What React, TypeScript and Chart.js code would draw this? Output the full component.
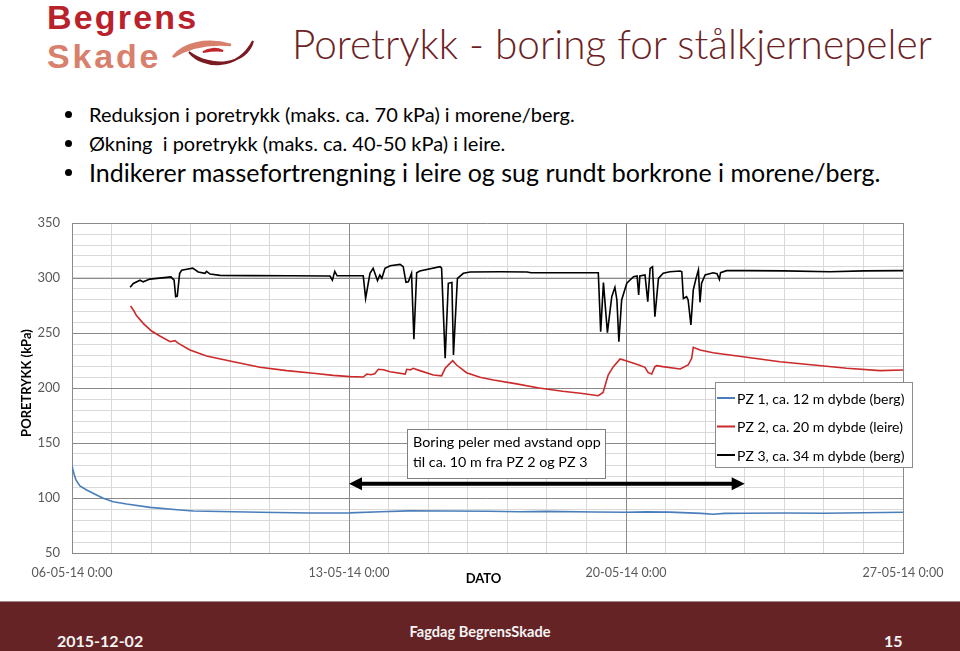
import React, { useEffect, useRef } from 'react';
import { Chart, registerables } from 'chart.js';

Chart.register(...registerables);

// ---------- DATA ----------
const X_TICK_LABELS = ['06-05-14 0:00', '13-05-14 0:00', '20-05-14 0:00', '27-05-14 0:00'];
const DAYS_PER_LABEL = 7;
const X_MAX_DAYS = 21;
const Y_MIN = 50;
const Y_MAX = 350;
const Y_LABEL_STEP = 50;

const SERIES_NAMES = [
  'PZ 1, ca. 12 m dybde (berg)',
  'PZ 2, ca. 20 m dybde (leire)',
  'PZ 3, ca. 34 m dybde (berg)',
];

// PZ 1 (blue) – days after 06-05-14 0:00, kPa
const PZ1_DAYS = [0, 0.05, 0.1, 0.2, 0.37, 0.62, 0.79, 1.04, 1.38, 1.97, 2.73, 3.07, 4.08, 4.75, 6, 7, 7.8, 8.5, 9.5, 10.5, 11.3, 12, 13.2, 14, 14.5, 15.1, 15.9, 16.2, 16.5, 17, 18, 19, 20, 21];
const PZ1_KPA = [129, 122, 116.4, 110.9, 107.3, 102.7, 99.7, 96.6, 94.5, 91.5, 89.1, 88.2, 87.5, 87, 86.4, 86.5, 87.5, 88.3, 88.2, 88, 87.5, 87.8, 87.3, 87, 87.4, 87.2, 86, 85.2, 86, 86.1, 86.3, 86.2, 86.6, 87];

// PZ 2 (red)
const PZ2_DAYS = [1.48, 1.55, 1.63, 1.8, 2.01, 2.22, 2.48, 2.6, 2.69, 2.98, 3.4, 4.08, 4.75, 5.43, 6.1, 6.6, 7.03, 7.36, 7.45, 7.55, 7.65, 7.74, 7.87, 8.04, 8.42, 8.46, 8.55, 8.62, 8.79, 9.13, 9.34, 9.43, 9.55, 9.62, 9.72, 9.97, 10.31, 10.65, 11.2, 11.8, 12.4, 12.9, 13.3, 13.42, 13.55, 13.68, 13.85, 14.02, 14.27, 14.48, 14.56, 14.65, 14.73, 14.78, 14.93, 15.37, 15.57, 15.66, 15.7, 15.87, 16.2, 17.05, 17.89, 18.74, 19.58, 20.42, 21];
const PZ2_KPA = [274.5, 270.9, 265.8, 258.8, 251.8, 247.3, 242.1, 243, 240.6, 234.5, 229.1, 223.9, 218.8, 215.8, 213.4, 211.5, 210.3, 210, 212.7, 212, 213, 217, 216.6, 214.8, 212.7, 217, 216.5, 217.9, 215.8, 211.8, 211, 217.9, 222.4, 224.8, 220.9, 213.9, 209.7, 207.3, 204, 200, 197, 195, 193, 196, 211.8, 219.4, 226.4, 224.5, 221.5, 218.8, 213.9, 212.7, 219.4, 220.3, 219.4, 217.3, 220.9, 227, 237, 234.5, 232.1, 227.9, 223.9, 220.9, 217.9, 215.8, 216.4];

// PZ 3 (black)
const PZ3_DAYS = [1.47, 1.55, 1.72, 1.8, 1.97, 2.39, 2.5, 2.58, 2.62, 2.66, 2.72, 2.77, 2.9, 3.05, 3.19, 3.36, 3.4, 3.49, 3.74, 4.5, 5.5, 6.52, 6.58, 6.64, 6.7, 7.36, 7.42, 7.53, 7.61, 7.72, 7.78, 7.83, 7.91, 8.04, 8.29, 8.37, 8.44, 8.5, 8.58, 8.64, 8.71, 8.79, 9.3, 9.34, 9.43, 9.51, 9.6, 9.64, 9.74, 9.89, 10.06, 10.82, 11.5, 11.6, 12.5, 13.3, 13.36, 13.43, 13.53, 13.64, 13.72, 13.77, 13.82, 13.89, 14.02, 14.19, 14.28, 14.32, 14.35, 14.48, 14.55, 14.61, 14.67, 14.73, 14.82, 14.94, 15.11, 15.37, 15.41, 15.45, 15.53, 15.57, 15.64, 15.7, 15.77, 15.83, 15.87, 15.91, 16.0, 16.2, 16.3, 16.36, 16.39, 16.54, 17.05, 18, 19.15, 20, 21];
const PZ3_KPA = [291.5, 295, 298, 296.5, 299, 300.6, 301, 298, 283, 283.5, 304, 307, 308, 309, 305.5, 304.3, 306, 303.6, 302.4, 302.2, 302, 301.8, 298, 306, 302, 302, 281.5, 304.3, 308.8, 297.6, 302.7, 299.7, 308.8, 311.2, 312.4, 310.3, 296, 296.5, 304.3, 244.3, 304.8, 306.4, 310.3, 309, 227, 295.2, 296, 230, 299.7, 304.3, 305.5, 305.7, 305.5, 304.8, 304.8, 304.8, 251.2, 295.8, 250.3, 283, 291.5, 280, 242.1, 280, 295.2, 301.2, 301.8, 284.5, 301.8, 302.7, 278.5, 308.8, 310.3, 264.8, 299.7, 304.3, 305.7, 306.4, 305.7, 281.5, 283, 280, 257.3, 289.1, 299.7, 307.3, 277.9, 295.2, 302.7, 304.8, 304, 298.8, 304.8, 306.7, 306.7, 306.5, 305.7, 306.5, 306.7];

// Annotation (drilling period arrow)
const ARROW_FROM_DAY = 7;
const ARROW_TO_DAY = 17;
const ARROW_KPA = 113;
const NOTE_LINES = ['Boring peler med avstand opp', 'til ca. 10 m fra PZ 2 og PZ 3'];

const BULLETS = [
  'Reduksjon i poretrykk (maks. ca. 70 kPa) i morene/berg.',
  'Økning  i poretrykk (maks. ca. 40-50 kPa) i leire.',
  'Indikerer massefortrengning i leire og sug rundt borkrone i morene/berg.',
];
const BULLET_SIZES = [20, 20, 25];

// ---------- STYLE ----------
const COLORS = ['#4a7ebb', '#cc2a2a', '#000000'];
const GRID_MINOR = '#d9d9d9';
const GRID_MAJOR = '#8a8a8a';
const FONT = 'Lato, "Open Sans", sans-serif';

const toPoints = (days: number[], vals: number[]) => days.map((d, i) => ({ x: d, y: vals[i] }));

const overlayPlugin = {
  id: 'overlay',
  beforeDatasetsDraw(chart: any) {
    // major grid lines drawn on top of the minor ones
    const { ctx, chartArea: a, scales } = chart;
    ctx.save();
    ctx.strokeStyle = GRID_MAJOR;
    ctx.lineWidth = 1;
    ctx.beginPath();
    scales.x.ticks.forEach((t: any) => {
      if (t.value % DAYS_PER_LABEL === 0) {
        const px = Math.round(scales.x.getPixelForValue(t.value)) + 0.5;
        ctx.moveTo(px, a.top);
        ctx.lineTo(px, a.bottom);
      }
    });
    scales.y.ticks.forEach((t: any) => {
      if (t.value % Y_LABEL_STEP === 0) {
        const py = Math.round(scales.y.getPixelForValue(t.value)) + 0.5;
        ctx.moveTo(a.left, py);
        ctx.lineTo(a.right, py);
      }
    });
    ctx.stroke();
    ctx.restore();
  },
  afterDraw(chart: any) {
    const { ctx, chartArea: a, scales } = chart;
    const xs = scales.x;
    const ys = scales.y;
    ctx.save();

    // axis titles
    ctx.fillStyle = '#000';
    ctx.font = `bold 13px ${FONT}`;
    ctx.textAlign = 'center';
    ctx.textBaseline = 'middle';
    ctx.fillText('DATO', (a.left + a.right) / 2 - 4, a.bottom + 26);
    ctx.save();
    ctx.translate(27, (a.top + a.bottom) / 2 - 5);
    ctx.rotate(-Math.PI / 2);
    ctx.fillText('PORETRYKK (kPa)', 0, 0);
    ctx.restore();

    // double arrow
    const x1 = xs.getPixelForValue(ARROW_FROM_DAY);
    const x2 = xs.getPixelForValue(ARROW_TO_DAY);
    const ay = ys.getPixelForValue(ARROW_KPA);
    ctx.strokeStyle = '#000';
    ctx.lineWidth = 4;
    ctx.beginPath();
    ctx.moveTo(x1 + 8, ay);
    ctx.lineTo(x2 - 8, ay);
    ctx.stroke();
    ctx.beginPath();
    ctx.moveTo(x1, ay);
    ctx.lineTo(x1 + 13, ay - 6.5);
    ctx.lineTo(x1 + 13, ay + 6.5);
    ctx.closePath();
    ctx.fill();
    ctx.beginPath();
    ctx.moveTo(x2, ay);
    ctx.lineTo(x2 - 13, ay - 6.5);
    ctx.lineTo(x2 - 13, ay + 6.5);
    ctx.closePath();
    ctx.fill();

    // note box
    const nx = a.left + 335;
    const ny = a.top + 206;
    ctx.fillStyle = '#fff';
    ctx.fillRect(nx, ny, 198, 49);
    ctx.strokeStyle = '#7f7f7f';
    ctx.lineWidth = 1;
    ctx.strokeRect(nx + 0.5, ny + 0.5, 198, 49);
    ctx.fillStyle = '#000';
    ctx.font = `14.3px ${FONT}`;
    ctx.textAlign = 'left';
    NOTE_LINES.forEach((t, i) => ctx.fillText(t, nx + 6, ny + 13 + i * 20));

    // legend
    const lx = a.left + 643;
    const ly = a.top + 159;
    ctx.fillStyle = '#fff';
    ctx.fillRect(lx, ly, 197, 85);
    ctx.strokeStyle = '#8c8c8c';
    ctx.strokeRect(lx + 0.5, ly + 0.5, 197, 85);
    ctx.font = `14px ${FONT}`;
    chart.data.datasets
      .slice()
      .sort((p: any, q: any) => p.order2 - q.order2)
      .forEach((ds: any, i: number) => {
        const ry = ly + 16 + i * 28.5;
        ctx.strokeStyle = ds.borderColor;
        ctx.lineWidth = 2;
        ctx.beginPath();
        ctx.moveTo(lx + 2, ry);
        ctx.lineTo(lx + 20, ry);
        ctx.stroke();
        ctx.fillStyle = '#000';
        ctx.fillText(ds.label, lx + 22, ry + 1);
      });

    ctx.restore();
  },
};

export default function App() {
  const ref = useRef<HTMLCanvasElement>(null);

  useEffect(() => {
    document.body.style.margin = '0';
    const chart = new Chart(ref.current as HTMLCanvasElement, {
      type: 'line',
      data: {
        datasets: [
          { label: SERIES_NAMES[2], data: toPoints(PZ3_DAYS, PZ3_KPA), borderColor: COLORS[2], order2: 2 } as any,
          { label: SERIES_NAMES[1], data: toPoints(PZ2_DAYS, PZ2_KPA), borderColor: COLORS[1], order2: 1 } as any,
          { label: SERIES_NAMES[0], data: toPoints(PZ1_DAYS, PZ1_KPA), borderColor: COLORS[0], order2: 0 } as any,
        ],
      },
      options: {
        responsive: false,
        animation: false,
        devicePixelRatio: 1,
        layout: { padding: { left: 0, top: 13, right: 57, bottom: 0 } },
        elements: {
          point: { radius: 0 },
          line: { borderWidth: 1.6, tension: 0, fill: false },
        },
        plugins: { legend: { display: false }, tooltip: { enabled: false }, title: { display: false } },
        scales: {
          x: {
            type: 'linear',
            min: 0,
            max: X_MAX_DAYS,
            afterFit: (s: any) => {
              s.height = 47;
              s.paddingLeft = 0;
              s.paddingRight = 0;
            },
            grid: {
              drawTicks: false,
              color: GRID_MINOR,
            },
            border: { color: '#7f7f7f', width: 1 },
            ticks: {
              stepSize: 1,
              autoSkip: false,
              maxRotation: 0,
              padding: 12,
              color: '#595959',
              font: { family: FONT, size: 12.5 },
              callback: (v: any) => (Number(v) % DAYS_PER_LABEL === 0 ? X_TICK_LABELS[Number(v) / DAYS_PER_LABEL] : ''),
            },
          },
          y: {
            min: Y_MIN,
            max: Y_MAX,
            afterFit: (s: any) => {
              s.width = 72;
              s.paddingTop = 0;
              s.paddingBottom = 0;
            },
            grid: {
              drawTicks: false,
              color: GRID_MINOR,
            },
            border: { color: GRID_MAJOR, width: 1 },
            ticks: {
              stepSize: 10,
              autoSkip: false,
              padding: 12,
              color: '#595959',
              font: { family: FONT, size: 13 },
              callback: (v: any) => (Number(v) % Y_LABEL_STEP === 0 ? String(v) : ''),
            },
          },
        },
      } as any,
      plugins: [overlayPlugin],
    });
    return () => chart.destroy();
  }, []);

  const logoFont = '"Liberation Sans Narrow", "Liberation Sans", sans-serif';

  return (
    <div
      style={{
        position: 'fixed',
        left: 0,
        top: 0,
        width: 960,
        height: 651,
        background: '#fff',
        overflow: 'hidden',
        fontFamily: FONT,
      }}
    >
      {/* logo */}
      <div
        style={{
          position: 'absolute',
          left: 47,
          top: 0,
          fontFamily: logoFont,
          fontWeight: 700,
          fontSize: 34,
          lineHeight: '34px',
          color: '#b9212b',
          letterSpacing: 2.2,
        }}
      >
        Begrens
      </div>
      <div
        style={{
          position: 'absolute',
          left: 47,
          top: 39,
          fontFamily: logoFont,
          fontWeight: 700,
          fontSize: 34,
          lineHeight: '34px',
          color: '#d9806c',
          letterSpacing: 2.8,
        }}
      >
        Skade
      </div>
      <svg style={{ position: 'absolute', left: 167, top: 35 }} width={95} height={35} viewBox="0 0 95 35">
        <path d="M6 22 C16 8 40 3 64 10 C42 8 22 12 6 22 Z" fill="#d9806c" stroke="#d9806c" strokeWidth={2.5} />
        <path d="M22 17 C36 34 70 36 86 6 C80 30 44 34 22 17 Z" fill="#7a1a22" stroke="#7a1a22" strokeWidth={2} />
        <path d="M36 17 C42 13 50 13 56 16 C50 15 42 16 36 17 Z" fill="#c0272d" stroke="#c0272d" strokeWidth={2} />
      </svg>

      {/* title */}
      <div
        style={{
          position: 'absolute',
          left: 292,
          top: 19,
          fontSize: 40.5,
          lineHeight: '50px',
          fontWeight: 300,
          color: '#6b2224',
          whiteSpace: 'nowrap',
        }}
      >
        Poretrykk - boring for stålkjernepeler
      </div>

      {/* bullets */}
      {BULLETS.map((b, i) => (
        <div key={i} style={{ position: 'absolute', left: 0, top: 100 + i * 29, height: 29, width: 960 }}>
          <div
            style={{
              position: 'absolute',
              left: 65,
              top: 11,
              width: 7,
              height: 7,
              borderRadius: 4,
              background: '#000',
            }}
          />
          <div
            style={{
              position: 'absolute',
              left: 89,
              top: 0,
              fontSize: BULLET_SIZES[i],
              lineHeight: '29px',
              color: '#000',
              whiteSpace: 'pre',
            }}
          >
            {b}
          </div>
        </div>
      ))}

      <canvas ref={ref} width={960} height={390} style={{ position: 'absolute', left: 0, top: 210, width: 960, height: 390 }} />

      {/* footer */}
      <div
        style={{
          position: 'absolute',
          left: 0,
          top: 601,
          width: 960,
          height: 50,
          background: '#652326',
          borderTop: '1px solid #a08888',
          color: '#f4f4f4',
          fontWeight: 700,
        }}
      >
        <div style={{ position: 'absolute', left: 57, top: 29, fontSize: 16 }}>2015-12-02</div>
        <div style={{ position: 'absolute', left: 0, width: 960, top: 21, textAlign: 'center', fontSize: 14.6 }}>Fagdag BegrensSkade</div>
        <div style={{ position: 'absolute', left: 884, top: 29, fontSize: 16 }}>15</div>
      </div>
    </div>
  );
}
